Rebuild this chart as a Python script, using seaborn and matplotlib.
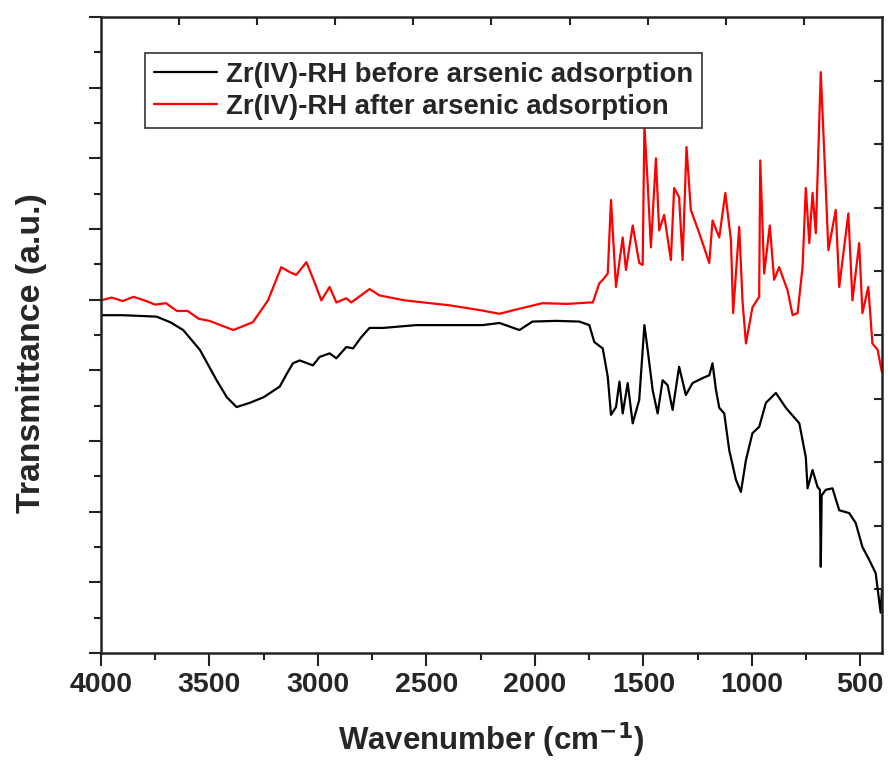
import numpy as np
import pandas as pd
import matplotlib
matplotlib.use("Agg")
import matplotlib.pyplot as plt
import seaborn as sns
from matplotlib.ticker import MultipleLocator

# ---- data (arbitrary transmittance units) ----
before_wn = [4000, 3900, 3744, 3680, 3621, 3544, 3467, 3420, 3375, 3314, 3250, 3176,
             3140, 3115, 3084, 3023, 2992, 2946, 2915, 2869, 2838, 2800, 2762, 2700,
             2547, 2241, 2163, 2071, 2011, 1900, 1795, 1749, 1726, 1687, 1664, 1649,
             1626, 1610, 1595, 1572, 1549, 1519, 1495, 1480, 1457, 1434, 1411, 1388,
             1365, 1335, 1304, 1273, 1227, 1196, 1181, 1165, 1150, 1127, 1104, 1073,
             1050, 1027, 997, 966, 935, 889, 843, 781, 751, 743, 720, 697, 686, 682,
             678, 659, 628, 597, 551, 521, 490, 459, 429, 406, 400]
before_T = [47.8, 47.8, 47.6, 46.8, 45.7, 42.9, 38.6, 36.2, 34.8, 35.4, 36.2, 37.7,
            39.7, 41.0, 41.4, 40.7, 41.9, 42.4, 41.7, 43.3, 43.1, 44.7, 46.0, 46.0,
            46.4, 46.4, 46.7, 45.7, 46.9, 47.0, 46.9, 46.4, 44.0, 43.1, 39.1, 33.7,
            34.8, 38.4, 33.9, 38.2, 32.5, 35.8, 46.4, 42.9, 37.2, 33.9, 38.6, 37.9,
            34.4, 40.5, 36.5, 38.2, 38.9, 39.3, 41.0, 37.2, 34.7, 33.9, 28.7, 24.5,
            22.8, 27.3, 31.1, 32.0, 35.4, 36.8, 34.7, 32.5, 27.7, 23.3, 25.9, 23.5,
            23.1, 12.2, 22.3, 23.1, 23.3, 20.2, 19.8, 18.4, 15.0, 13.2, 11.3, 5.7, 8.9]

after_wn = [4000, 3950, 3900, 3850, 3800, 3750, 3700, 3650, 3600, 3550, 3500, 3390,
            3300, 3230, 3169, 3130, 3100, 3053, 3020, 2984, 2946, 2915, 2869, 2846,
            2762, 2716, 2600, 2393, 2250, 2163, 2100, 1965, 1850, 1750, 1733, 1703,
            1687, 1664, 1649, 1626, 1595, 1580, 1549, 1519, 1503, 1495, 1480, 1465,
            1442, 1427, 1404, 1373, 1358, 1335, 1319, 1301, 1281, 1242, 1196, 1181,
            1150, 1122, 1096, 1086, 1058, 1043, 1027, 997, 966, 961, 943, 917, 897,
            874, 835, 812, 789, 766, 751, 735, 720, 705, 682, 659, 647, 613, 597, 555,
            536, 505, 490, 463, 444, 420, 400]
after_T = [49.9, 50.3, 49.8, 50.4, 49.9, 49.3, 49.5, 48.4, 48.4, 47.3, 47.0, 45.7,
           46.8, 49.9, 54.6, 53.9, 53.5, 55.3, 52.8, 49.9, 51.8, 49.6, 50.2, 49.6,
           51.5, 50.6, 49.9, 49.2, 48.5, 48.0, 48.5, 49.5, 49.4, 49.6, 49.6, 52.3,
           52.8, 53.7, 64.1, 51.8, 58.8, 54.2, 60.5, 55.2, 54.9, 74.7, 66.5, 57.4,
           70.0, 59.8, 62.0, 55.6, 65.8, 64.5, 55.6, 71.6, 62.7, 59.4, 55.2, 61.2,
           58.8, 65.1, 58.4, 48.1, 60.3, 49.9, 43.8, 48.9, 50.4, 69.7, 53.7, 60.5,
           52.8, 54.6, 51.3, 47.8, 48.1, 54.6, 65.8, 58.0, 65.1, 59.4, 82.2, 65.8,
           57.0, 62.7, 51.8, 62.2, 49.9, 58.0, 48.1, 51.8, 43.8, 42.9, 39.7]

labels = ["Zr(IV)-RH before arsenic adsorption", "Zr(IV)-RH after arsenic adsorption"]
colors = ["#000000", "#ff0000"]

df = pd.concat([
    pd.DataFrame({"wn": before_wn, "T": before_T, "sample": labels[0]}),
    pd.DataFrame({"wn": after_wn, "T": after_T, "sample": labels[1]}),
], ignore_index=True)

sns.set_style("ticks")
plt.rcParams["font.family"] = ["Liberation Sans", "DejaVu Sans"]
plt.rcParams["font.weight"] = "bold"
plt.rcParams["mathtext.default"] = "bf"

fig = plt.figure(figsize=(8.88, 7.65), dpi=100)
ax = fig.add_axes([0.1137, 0.1464, 0.8795, 0.8314])

sns.lineplot(data=df, x="wn", y="T", hue="sample", palette=dict(zip(labels, colors)),
             estimator=None, sort=False, linewidth=1.6, ax=ax)

ax.set_xlim(4000, 400)
ax.set_ylim(0, 90)
ax.xaxis.set_major_locator(MultipleLocator(500))
ax.xaxis.set_minor_locator(MultipleLocator(250))
ax.yaxis.set_major_locator(MultipleLocator(10))
ax.yaxis.set_minor_locator(MultipleLocator(5))
ax.set_yticklabels([])
ax.tick_params(axis="both", which="major", direction="out", length=9, width=1.5,
               color="#222222")
ax.tick_params(axis="both", which="minor", direction="out", length=5, width=1.5,
               color="#222222")
ax.tick_params(axis="x", labelsize=20.5, pad=5)
for lab in ax.get_xticklabels():
    lab.set_fontweight("bold")
for sp in ax.spines.values():
    sp.set_visible(True)
    sp.set_linewidth(1.8)
    sp.set_color("#222222")

# top and right inward ticks (10 equal divisions)
sec_x = ax.secondary_xaxis("top")
sec_x.set_xticks(np.linspace(4000, 400, 11)[1:-1])
sec_x.tick_params(direction="in", length=6, width=1.5, labeltop=False, color="#222222")
sec_x.spines["top"].set_visible(False)
sec_y = ax.secondary_yaxis("right")
sec_y.set_yticks(np.linspace(0, 90, 11)[1:-1])
sec_y.tick_params(direction="in", length=6, width=1.5, labelright=False, color="#222222")
sec_y.spines["right"].set_visible(False)

ax.set_xlabel("Wavenumber (cm$^{-1}$)", fontsize=22.5, fontweight="bold", labelpad=16)
ax.set_ylabel("Transmittance (a.u.)", fontsize=24.4, fontweight="bold")
ax.yaxis.set_label_coords(-0.069, 0.472)

leg = ax.legend(loc="upper left", bbox_to_anchor=(0.056, 0.943), borderaxespad=0,
                fancybox=False, edgecolor="#333333", framealpha=1, handlelength=2.3,
                handletextpad=0.35, labelspacing=0.2, borderpad=0.32,
                prop={"family": "Liberation Sans", "weight": "bold", "size": 19.8})
leg.get_frame().set_linewidth(1.2)
for h in leg.get_lines():
    h.set_linewidth(1.6)

fig.savefig("out.png", dpi=100)
